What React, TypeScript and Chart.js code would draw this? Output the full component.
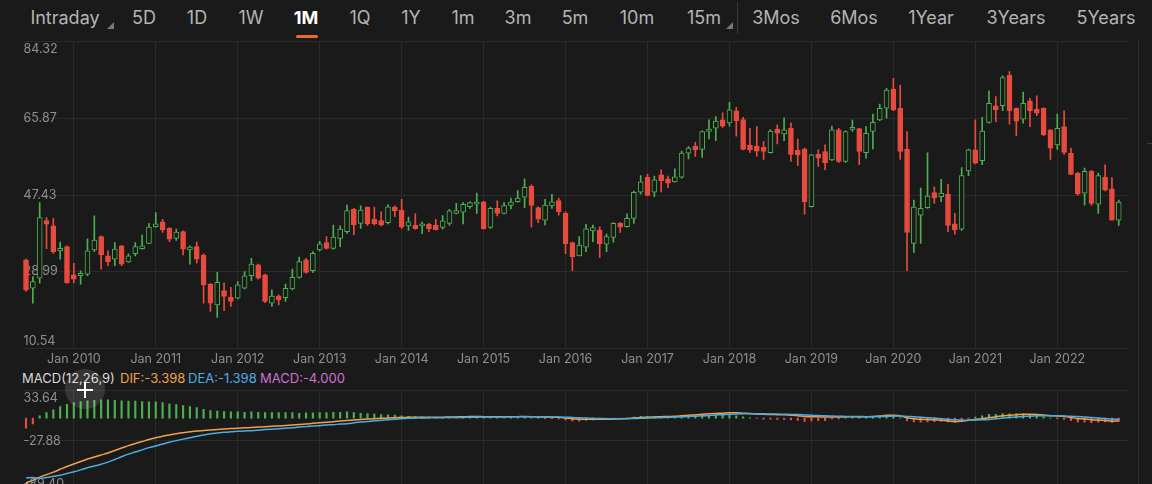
import { useEffect, useRef } from 'react';
import { Chart, registerables } from 'chart.js';

Chart.register(...registerables);

// ---------- data ----------
const START_YEAR = 2009;
const START_MONTH = 5; // June (0-based)

const OPEN = [
  31.8, 25.0, 27.4, 41.3, 40.0, 34.0, 35.0, 28.2, 28.0, 28.4, 34.2, 37.4, 32.8, 32.0, 35.2, 31.3, 33.3, 34.5, 35.8, 39.8,
  41.0, 39.4, 37.0, 38.6, 34.2, 35.0, 33.0, 26.0, 21.0, 24.4, 22.8, 22.6, 25.0, 28.0, 30.6, 28.2, 21.4, 23.1, 22.7, 24.8,
  27.6, 31.8, 29.2, 34.2, 36.0, 34.6, 37.0, 38.6, 44.0, 40.6, 44.5, 41.6, 41.3, 40.8, 44.5, 43.8, 40.0, 40.2, 40.0, 40.4,
  40.2, 39.6, 40.6, 43.0, 43.3, 44.6, 45.2, 45.8, 39.6, 44.2, 43.0, 44.9, 45.8, 46.9, 49.6, 44.4, 41.4, 44.8, 46.1, 43.0,
  36.0, 32.8, 34.9, 38.8, 39.0, 35.6, 37.2, 40.6, 39.8, 41.8, 48.1, 51.7, 48.1, 52.3, 51.3, 50.6, 51.7, 57.5, 59.2, 58.4,
  62.7, 63.5, 65.5, 64.8, 67.7, 65.6, 59.4, 59.2, 58.9, 57.6, 63.3, 62.1, 63.5, 58.2, 58.5, 44.6, 57.3, 57.9, 55.9, 63.1,
  55.5, 63.2, 63.4, 57.6, 62.7, 65.5, 68.3, 72.9, 68.3, 58.5, 35.8, 42.6, 44.4, 48.0, 47.0, 47.6, 40.5, 39.2, 53.2, 58.3,
  55.7, 64.9, 68.9, 68.9, 76.3, 68.3, 65.7, 70.1, 68.1, 68.3, 63.1, 59.5, 63.9, 57.5, 52.7, 47.9, 53.2, 45.2, 51.7, 48.9,
  41.4,
];
const HIGH = [
  32.0, 27.8, 45.6, 42.0, 41.8, 36.1, 35.2, 31.0, 29.2, 36.9, 42.4, 37.6, 34.0, 36.0, 35.3, 33.3, 36.0, 37.8, 40.6, 43.2,
  41.6, 39.6, 39.2, 38.8, 35.2, 36.1, 33.3, 26.1, 28.8, 26.3, 25.2, 26.6, 29.0, 32.2, 30.8, 28.4, 24.6, 23.4, 26.0, 29.6,
  32.5, 32.2, 33.8, 36.3, 37.4, 40.2, 40.0, 45.0, 44.2, 44.8, 44.6, 44.5, 43.4, 45.1, 44.8, 46.4, 42.1, 42.9, 40.9, 40.6,
  41.6, 42.5, 44.0, 45.4, 45.6, 45.8, 47.9, 45.9, 44.5, 46.0, 45.6, 46.7, 48.5, 51.3, 49.9, 44.6, 46.4, 47.6, 46.7, 43.4,
  36.1, 37.4, 40.4, 40.2, 39.8, 38.0, 40.8, 40.8, 42.9, 48.4, 52.1, 52.4, 52.0, 53.5, 52.0, 53.7, 58.0, 59.1, 60.1, 62.9,
  65.5, 66.3, 67.2, 69.7, 68.5, 66.1, 63.5, 63.9, 60.3, 63.2, 64.3, 66.0, 64.8, 60.9, 58.7, 57.2, 58.3, 59.5, 64.0, 63.5,
  62.9, 65.5, 63.5, 63.9, 66.9, 69.3, 73.1, 75.5, 73.9, 62.7, 46.2, 49.1, 57.6, 49.4, 51.2, 50.0, 43.0, 54.0, 58.5, 65.5,
  66.1, 72.5, 71.1, 76.1, 77.1, 68.4, 72.2, 70.7, 71.3, 68.4, 63.2, 66.9, 67.7, 58.7, 52.9, 53.9, 53.3, 52.7, 54.7, 51.6,
  46.2,
];
const LOW = [
  24.2, 21.4, 26.2, 34.5, 33.4, 32.0, 26.2, 26.3, 26.0, 28.0, 33.8, 29.6, 30.4, 30.4, 30.4, 31.2, 32.8, 34.4, 35.7, 39.7,
  38.4, 36.2, 36.5, 33.0, 30.8, 31.0, 21.4, 19.4, 18.0, 19.6, 20.6, 22.4, 24.8, 26.8, 27.2, 21.5, 20.6, 21.0, 21.8, 24.6,
  27.4, 28.6, 28.8, 34.0, 34.4, 34.4, 35.0, 38.2, 37.8, 39.4, 40.1, 40.2, 40.0, 40.5, 42.2, 39.4, 38.9, 39.2, 38.1, 38.6,
  39.0, 39.2, 40.1, 42.9, 40.5, 44.2, 43.0, 39.2, 39.4, 42.4, 42.9, 44.1, 45.7, 44.4, 39.7, 40.8, 40.2, 44.2, 42.6, 33.3,
  29.2, 32.8, 33.8, 36.2, 32.4, 33.8, 36.1, 38.4, 39.7, 40.6, 47.6, 47.2, 47.0, 48.2, 49.2, 50.5, 51.5, 56.1, 56.7, 56.5,
  60.9, 60.5, 63.7, 64.0, 61.6, 58.3, 57.7, 56.8, 56.0, 57.5, 59.7, 60.5, 55.5, 54.5, 42.8, 44.5, 54.3, 53.5, 55.7, 55.2,
  55.3, 62.7, 54.7, 56.3, 58.5, 65.3, 65.9, 67.7, 56.0, 29.2, 33.6, 35.8, 44.2, 45.4, 45.8, 38.6, 38.0, 38.9, 52.1, 54.9,
  54.7, 64.7, 65.1, 67.7, 64.5, 61.7, 64.7, 63.9, 66.5, 61.7, 56.0, 58.4, 57.2, 52.3, 47.4, 45.0, 44.9, 43.0, 48.4, 41.4,
  40.1,
];
const CLOSE = [
  24.6, 26.6, 42.0, 40.4, 33.8, 34.6, 26.3, 27.2, 28.6, 34.0, 36.6, 33.0, 31.4, 34.4, 30.8, 32.8, 35.0, 35.2, 39.7, 40.5,
  39.0, 36.8, 38.5, 34.4, 34.9, 32.0, 25.8, 21.4, 26.4, 23.0, 21.8, 25.8, 28.0, 30.8, 27.4, 21.8, 23.1, 22.2, 25.0, 27.6,
  31.4, 28.8, 33.4, 35.7, 34.6, 37.3, 39.2, 43.7, 40.2, 43.8, 40.5, 40.5, 40.2, 44.6, 43.6, 39.7, 41.0, 39.3, 40.5, 39.3,
  39.1, 41.2, 43.6, 43.7, 45.2, 45.6, 45.7, 39.3, 44.2, 43.0, 44.9, 45.7, 46.7, 49.3, 44.9, 41.6, 45.0, 45.8, 43.4, 35.7,
  32.6, 35.4, 39.3, 39.6, 35.7, 37.4, 40.6, 39.7, 41.8, 48.1, 50.6, 47.3, 51.1, 50.9, 50.3, 51.8, 57.5, 58.7, 58.3, 62.7,
  63.3, 65.2, 64.0, 67.9, 65.3, 58.4, 58.3, 58.0, 57.9, 62.8, 62.3, 63.1, 57.2, 57.1, 45.8, 57.1, 56.3, 55.2, 63.1, 55.5,
  62.7, 63.7, 57.9, 62.3, 64.9, 68.3, 72.7, 67.9, 57.9, 38.4, 44.5, 44.2, 47.2, 46.7, 47.9, 40.1, 39.0, 52.1, 58.3, 55.1,
  62.8, 69.5, 67.9, 75.7, 67.7, 65.2, 69.5, 67.7, 67.1, 61.9, 58.7, 63.5, 57.7, 52.4, 47.7, 53.1, 45.4, 52.1, 48.6, 41.4,
  45.7,
];

const DIF = [
  -79, -76, -72, -69, -66, -62.5, -59, -56, -53, -50, -47.5, -45, -42.5, -39.5, -36.5, -33.5, -31, -28.5, -26, -24,
  -22, -20.5, -19, -17.8, -16.7, -15.7, -15, -14.3, -13.7, -13.2, -12.7, -12.2, -11.8, -11.3, -10.9, -10.4, -9.9, -9.4, -8.8, -8.2,
  -7.6, -7, -6.3, -5.6, -4.9, -4.2, -3.5, -2.8, -2.2, -1.6, -1.1, -0.6, -0.2, 0.2, 0.6, 0.9, 1.1, 1.2, 1.3, 1.3,
  1.2, 1.2, 1.4, 1.6, 1.8, 2.0, 2.1, 1.8, 1.8, 1.7, 1.7, 1.8, 1.9, 2.1, 1.9, 1.5, 1.4, 1.3, 1.1, 0.2,
  -0.8, -1.3, -1.3, -1.2, -1.3, -1.3, -1.0, -0.8, -0.5, 0.3, 1.0, 1.3, 1.6, 1.9, 2.1, 2.3, 3.0, 3.6, 4.0, 4.7,
  5.3, 5.9, 6.2, 6.7, 6.7, 6.2, 5.7, 5.2, 4.7, 4.5, 4.3, 4.1, 3.6, 3.1, 2.0, 1.9, 1.7, 1.4, 1.6, 1.4,
  1.6, 1.8, 1.6, 1.8, 2.1, 2.7, 3.5, 3.7, 3.0, 0.5, -0.5, -1.3, -1.6, -2.0, -2.6, -3.4, -4.4, -3.6, -2.4, -1.6,
  -0.6, 0.8, 1.7, 3.0, 3.5, 4.3, 4.7, 4.8, 4.6, 4.0, 3.1, 2.7, 2.1, 1.0, -0.4, -1.0, -1.9, -2.2, -2.7, -3.6,
  -3.398,
];
const DEA = [
  -72.9, -72.5, -73.5, -72.5, -71.1, -69.7, -67.6, -65.6, -63.2, -60.6, -58.5, -56.2, -53.7, -50.5, -47.1, -43.9, -41.4, -38.7, -36, -34,
  -31.6, -29.3, -27.4, -25.6, -23.9, -22.2, -20.5, -19, -18, -17.3, -16.6, -16.1, -15.5, -15.2, -14.6, -13.9, -13.4, -12.9, -12.3, -11.7,
  -10.7, -10.3, -9.6, -9.1, -8.4, -7.9, -7.2, -6.7, -5.7, -4.7, -4.0, -3.1, -2.5, -1.9, -1.3, -0.6, -0.1, 0.2, 0.3, 0.5,
  0.6, 0.7, 0.8, 0.9, 1.0, 1.2, 1.3, 1.4, 1.5, 1.5, 1.6, 1.6, 1.7, 1.7, 1.8, 1.7, 1.7, 1.6, 1.5, 1.3,
  0.9, 0.5, 0.1, -0.2, -0.4, -0.6, -0.7, -0.7, -0.6, -0.4, -0.1, 0.2, 0.5, 0.8, 1.1, 1.4, 1.7, 2.1, 2.5, 2.9,
  3.4, 3.9, 4.3, 4.8, 5.2, 5.4, 5.5, 5.4, 5.3, 5.1, 5.0, 4.8, 4.6, 4.4, 4.0, 3.6, 3.2, 2.9, 2.6, 2.4,
  2.2, 2.1, 2.0, 1.9, 1.9, 2.0, 2.3, 2.6, 2.7, 2.2, 1.7, 1.1, 0.6, 0.1, -0.6, -1.2, -1.9, -2.4, -2.5, -2.3,
  -2.0, -1.5, -0.7, 0.1, 0.8, 1.4, 2.0, 2.5, 2.9, 3.1, 3.1, 3.0, 2.8, 2.5, 2.0, 1.4, 0.8, 0.2, -0.4, -1.0,
  -1.398,
];
const HIST = [
  -12.2, -7, 2.9, 7, 10.2, 14.3, 17.1, 19.2, 20.4, 21.2, 22, 22.4, 22.4, 22, 21.2, 20.8, 20.8, 20.4, 20, 20,
  19.2, 17.5, 16.7, 15.5, 14.3, 13, 11, 9.4, 8.6, 8.2, 7.7, 7.7, 7.3, 7.7, 7.3, 6.9, 6.9, 6.9, 6.9, 6.9,
  6.1, 6.5, 6.5, 6.9, 6.9, 7.3, 7.3, 7.7, 6.9, 6.1, 5.7, 4.9, 4.5, 4.1, 3.7, 2.9, 2.4, 2.0, 1.6, 1.5,
  1.2, 1.0, 1.2, 1.4, 1.6, 1.6, 1.6, 0.8, 0.6, 0.4, 0.2, 0.4, 0.4, 0.8, 0.2, -0.4, -0.6, -0.6, -0.8, -2.2,
  -3.4, -3.6, -2.8, -2.0, -1.8, -1.4, -0.6, -0.2, 0.2, 1.4, 2.2, 2.2, 2.2, 2.2, 2.0, 1.8, 2.6, 3.0, 3.0, 3.6,
  3.8, 4.0, 3.8, 3.8, 3.0, 1.6, 0.4, -0.4, -1.2, -1.2, -1.4, -1.4, -2.0, -2.6, -4.0, -3.4, -3.0, -3.0, -1.0, -0.8,
  0.4, 1.0, 0.6, 1.0, 1.4, 2.0, 2.4, 2.2, 0.6, -3.4, -4.4, -4.8, -4.4, -4.2, -4.0, -4.4, -5.0, -2.4, -0.2, 1.4,
  2.8, 4.6, 4.8, 5.8, 5.4, 5.8, 5.4, 4.6, 3.4, 1.8, 0.0, -0.6, -1.4, -3.0, -4.8, -4.8, -5.4, -4.8, -4.6, -5.2,
  -4.0,
];

const Y_TICKS = [10.54, 28.985, 47.43, 65.875, 84.32];
const Y_LABELS = ['10.54', '28.99', '47.43', '65.87', '84.32'];
const MACD_TICKS = [-89.4, -27.88, 33.64];
const MACD_LABELS = ['-89.40', '-27.88', '33.64'];

const TABS = ['Intraday', '5D', '1D', '1W', '1M', '1Q', '1Y', '1m', '3m', '5m', '10m', '15m', '3Mos', '6Mos', '1Year', '3Years', '5Years'];
const ACTIVE_TAB = '1M';
const DROPDOWN_TABS = ['Intraday', '15m'];

const MACD_TITLE = 'MACD(12,26,9)';
const DIF_TEXT = 'DIF:-3.398';
const DEA_TEXT = 'DEA:-1.398';
const MACD_TEXT = 'MACD:-4.000';

// month categories (one spare slot at the end)
const LABELS: string[] = Array.from({ length: OPEN.length + 1 }, (_, i) => {
  const m = START_MONTH + i;
  const y = START_YEAR + Math.floor(m / 12);
  const mo = (m % 12) + 1;
  return `${y}-${mo < 10 ? '0' + mo : mo}`;
});

// ---------- style / layout ----------
const BG = '#1a1a1a';
const GRID = '#2a2a2a';
const TEXT = '#8f8f8f';
const GREEN = '#4caf50';
const RED = '#e84b3e';
const ORANGE = '#f0a04b';
const BLUE = '#4aaee6';
const MAGENTA = '#d06fd6';
const FONT = 'Inter, "Noto Sans", sans-serif';
const TAB_X = [65, 144, 197, 251, 306, 360, 411, 463, 518, 575, 637, 704, 776, 854, 931, 1016, 1106];

const isJan = (i: number) => LABELS[i] !== undefined && LABELS[i].endsWith('-01');

const zeroPad = (s: any) => {
  s.paddingTop = 0;
  s.paddingBottom = 0;
  s.paddingLeft = 0;
  s.paddingRight = 0;
};

export default function App() {
  const mainRef = useRef<HTMLCanvasElement>(null);
  const macdRef = useRef<HTMLCanvasElement>(null);

  useEffect(() => {
    document.body.style.margin = '0';
    document.body.style.background = BG;
    const up = CLOSE.map((c, i) => c >= OPEN[i]);

    const main = new Chart(mainRef.current!, {
      type: 'bar',
      data: {
        labels: LABELS,
        datasets: [
          {
            label: 'body',
            data: OPEN.map((o, i) => [o, CLOSE[i]]) as any,
            backgroundColor: up.map((u) => (u ? BG : RED)),
            borderColor: up.map((u) => (u ? GREEN : RED)),
            borderWidth: 1,
            borderSkipped: false,
            barThickness: 5,
            minBarLength: 2,
            grouped: false,
          } as any,
          {
            label: 'wick',
            data: LOW.map((l, i) => [l, HIGH[i]]) as any,
            backgroundColor: up.map((u) => (u ? GREEN : RED)),
            borderWidth: 0,
            barThickness: 1,
            grouped: false,
          } as any,
        ],
      },
      options: {
        animation: false,
        responsive: false,
        devicePixelRatio: 1,
        events: [],
        layout: { padding: { left: 22.6, right: 23, top: 1.7, bottom: 0 } },
        plugins: { legend: { display: false }, tooltip: { enabled: false } },
        scales: {
          x: {
            type: 'category',
            offset: true,
            border: { display: false },
            grid: {
              offset: false,
              drawTicks: false,
              color: (ctx: any) => (isJan(ctx.index) ? GRID : 'rgba(0,0,0,0)'),
            },
            ticks: {
              autoSkip: false,
              maxRotation: 0,
              minRotation: 0,
              padding: 3,
              color: TEXT,
              font: { family: FONT, size: 12.5 },
              callback: (_v: any, i: number) => (isJan(i) ? 'Jan ' + LABELS[i].slice(0, 4) : ''),
            },
            afterFit: (s: any) => {
              s.height = 21.7;
              zeroPad(s);
            },
          },
          y: {
            min: Y_TICKS[0],
            max: Y_TICKS[Y_TICKS.length - 1],
            border: { display: false },
            grid: { color: GRID, drawTicks: false },
            afterBuildTicks: (s: any) => {
              s.ticks = Y_TICKS.map((v) => ({ value: v }));
            },
            ticks: {
              mirror: true,
              padding: 1,
              color: TEXT,
              font: { family: FONT, size: 12.5 },
              callback: (_v: any, i: number) => {
                const t = Y_LABELS[i];
                if (i === 0) return [t, ''];
                if (i === Y_LABELS.length - 1) return ['', t];
                return t;
              },
            },
            afterFit: (s: any) => {
              s.width = 0;
              zeroPad(s);
            },
          },
        },
      } as any,
    });

    const macd = new Chart(macdRef.current!, {
      type: 'bar',
      data: {
        labels: LABELS,
        datasets: [
          {
            type: 'line',
            label: 'DIF',
            data: DIF,
            borderColor: ORANGE,
            borderWidth: 1.5,
            pointRadius: 0,
            tension: 0.3,
            order: 1,
          } as any,
          {
            type: 'line',
            label: 'DEA',
            data: DEA,
            borderColor: BLUE,
            borderWidth: 1.5,
            pointRadius: 0,
            tension: 0.3,
            order: 0,
          } as any,
          {
            type: 'bar',
            label: 'MACD',
            data: HIST,
            backgroundColor: HIST.map((v) => (v >= 0 ? GREEN : RED)),
            borderWidth: 0,
            barThickness: 1.5,
            order: 2,
          } as any,
        ],
      },
      options: {
        animation: false,
        responsive: false,
        devicePixelRatio: 1,
        events: [],
        layout: { padding: { left: 22.6, right: 23, top: 5.7, bottom: 3.7 } },
        plugins: { legend: { display: false }, tooltip: { enabled: false } },
        scales: {
          x: {
            type: 'category',
            offset: true,
            border: { display: false },
            grid: {
              offset: false,
              drawTicks: false,
              color: (ctx: any) => (isJan(ctx.index) ? GRID : 'rgba(0,0,0,0)'),
            },
            ticks: { display: false, autoSkip: false },
            afterFit: (s: any) => {
              s.height = 0;
              zeroPad(s);
            },
          },
          y: {
            min: MACD_TICKS[0],
            max: MACD_TICKS[MACD_TICKS.length - 1],
            border: { display: false },
            grid: { color: GRID, drawTicks: false },
            afterBuildTicks: (s: any) => {
              s.ticks = MACD_TICKS.map((v) => ({ value: v }));
            },
            ticks: {
              mirror: true,
              padding: 1,
              color: TEXT,
              font: { family: FONT, size: 12.5 },
              callback: (_v: any, i: number) => {
                const t = MACD_LABELS[i];
                if (i === 0) return [t, ''];
                if (i === MACD_LABELS.length - 1) return ['', t];
                return t;
              },
            },
            afterFit: (s: any) => {
              s.width = 0;
              zeroPad(s);
            },
          },
        },
      } as any,
    });

    return () => {
      main.destroy();
      macd.destroy();
    };
  }, []);

  return (
    <div
      style={{
        position: 'fixed',
        left: 0,
        top: 0,
        width: 1152,
        height: 484,
        background: BG,
        overflow: 'hidden',
        fontFamily: FONT,
      }}
    >
      {TABS.map((t, i) => (
        <div
          key={t}
          style={{
            position: 'absolute',
            left: TAB_X[i],
            top: 17,
            transform: 'translate(-50%, -50%)',
            fontSize: 18,
            whiteSpace: 'nowrap',
            color: t === ACTIVE_TAB ? '#ffffff' : '#b4b4b4',
            fontWeight: t === ACTIVE_TAB ? 700 : 400,
          }}
        >
          {t}
        </div>
      ))}
      {DROPDOWN_TABS.map((t) => {
        const x = t === 'Intraday' ? 107 : 726;
        return (
          <div
            key={'tri' + t}
            style={{
              position: 'absolute',
              left: x,
              top: 22,
              width: 0,
              height: 0,
              borderLeft: '7px solid transparent',
              borderBottom: '7px solid #777',
            }}
          />
        );
      })}
      <div
        style={{
          position: 'absolute',
          left: 296,
          top: 35,
          width: 22,
          height: 3,
          borderRadius: 2,
          background: '#ec6a2c',
        }}
      />
      <div style={{ position: 'absolute', left: 737, top: 2, width: 1, height: 32, background: '#3a3a3a' }} />
      <div style={{ position: 'absolute', left: 1138, top: 40, width: 1, height: 444, background: '#2c2c2c' }} />
      <div style={{ position: 'absolute', left: 1147, top: 143, width: 5, height: 1, background: '#3a3a3a' }} />

      <canvas ref={mainRef} width={1152} height={330} style={{ position: 'absolute', left: 0, top: 40 }} />

      <div
        style={{
          position: 'absolute',
          left: 0,
          top: 370,
          height: 17,
          width: 600,
          fontSize: 13,
          lineHeight: '17px',
          whiteSpace: 'nowrap',
        }}
      >
        <span style={{ position: 'absolute', left: 22, color: '#d8d8d8' }}>{MACD_TITLE}</span>
        <span style={{ position: 'absolute', left: 120, color: ORANGE }}>{DIF_TEXT}</span>
        <span style={{ position: 'absolute', left: 188, color: BLUE }}>{DEA_TEXT}</span>
        <span style={{ position: 'absolute', left: 260, color: MAGENTA }}>{MACD_TEXT}</span>
      </div>

      <canvas ref={macdRef} width={1152} height={110} style={{ position: 'absolute', left: 0, top: 385 }} />

      <div
        style={{
          position: 'absolute',
          left: 65,
          top: 369,
          width: 40,
          height: 40,
          borderRadius: '50%',
          background: 'rgba(255,255,255,0.12)',
        }}
      />
      <div style={{ position: 'absolute', left: 77, top: 389, width: 16, height: 2, background: '#ffffff' }} />
      <div style={{ position: 'absolute', left: 84, top: 382, width: 2, height: 16, background: '#ffffff' }} />
    </div>
  );
}
